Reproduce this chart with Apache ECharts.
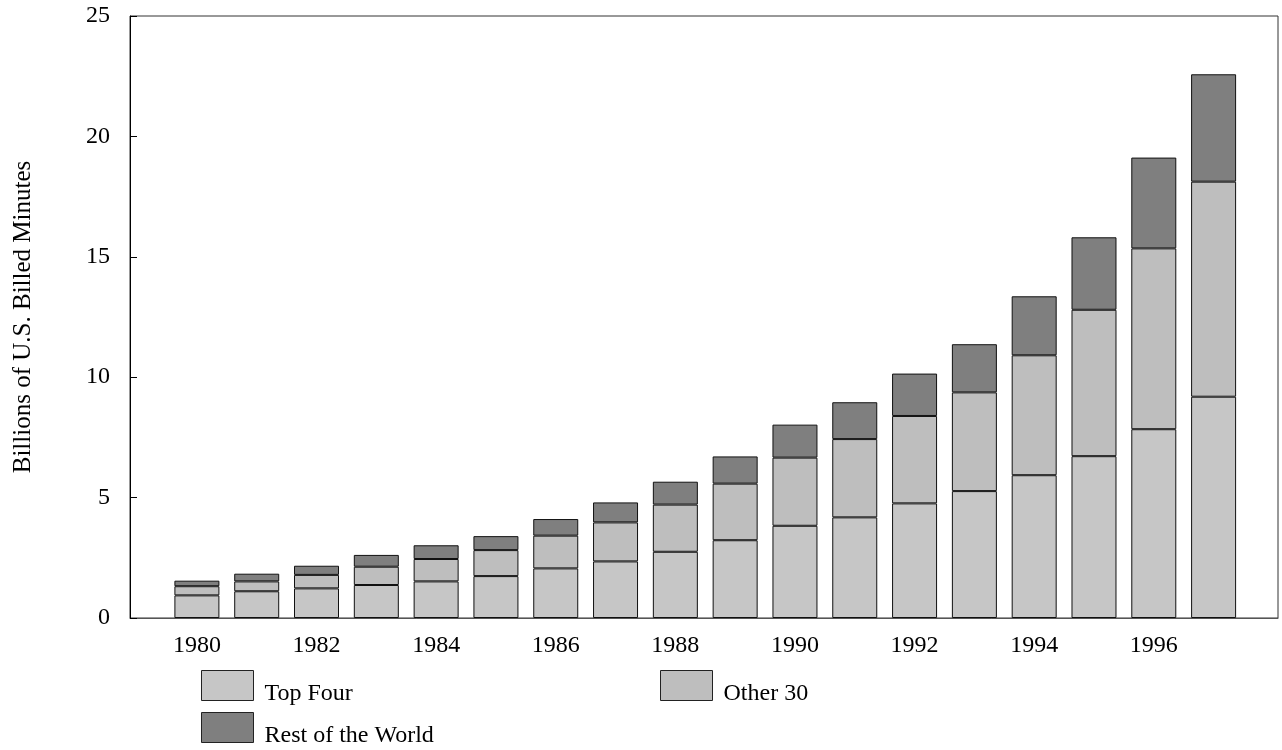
<!DOCTYPE html>
<html>
<head>
<meta charset="utf-8">
<script src="https://cdn.jsdelivr.net/npm/echarts@6/dist/echarts.min.js"></script>
<style>
html,body{margin:0;padding:0;background:#fff;}
#chart{width:1282px;height:750px;}
</style>
</head>
<body>
<div id="chart"></div>
<script>
var years = ['1980','1981','1982','1983','1984','1985','1986','1987','1988','1989','1990','1991','1992','1993','1994','1995','1996','1997'];
var topFour = [0.94,1.11,1.23,1.37,1.52,1.74,2.06,2.35,2.75,3.23,3.83,4.18,4.76,5.27,5.93,6.72,7.84,9.19];
var other30 = [0.38,0.41,0.56,0.76,0.93,1.08,1.36,1.62,1.96,2.35,2.83,3.25,3.63,4.10,4.98,6.08,7.51,8.93];
var restOfWorld = [0.23,0.32,0.38,0.49,0.57,0.58,0.69,0.83,0.95,1.13,1.37,1.53,1.76,2.00,2.45,3.01,3.77,4.46];
var xTickLabels = ['1980','1982','1984','1986','1988','1990','1992','1994','1996'];

var FONT = 'Liberation Serif';
var colors = {top:'#c6c6c6', other:'#bebebe', rest:'#7f7f7f'};

function barSeries(name, vals, color){
  return {
    name: name, type: 'bar', stack: 'total', barWidth: 45,
    xAxisIndex: 1, yAxisIndex: 1,
    data: vals,
    itemStyle: {color: color, borderColor: '#111', borderWidth: 1},
    emphasis: {disabled: true}
  };
}

function legendFor(name, left, top){
  return {
    data: [name], left: left, top: top, orient: 'horizontal',
    icon: 'rect', itemWidth: 52, itemHeight: 30, padding: 0,
    itemStyle: {borderColor: '#222', borderWidth: 1},
    formatter: function(n){ return '{a|' + n + '}'; },
    textStyle: {fontFamily: FONT, fontSize: 24, color: '#000',
      rich: {a: {fontFamily: FONT, fontSize: 24, color: '#000', padding: [16,0,0,6]}}},
    selectedMode: false
  };
}

var chart = echarts.init(document.getElementById('chart'), null, {renderer: 'canvas'});
chart.setOption({
  animation: false,
  backgroundColor: '#fff',
  grid: [
    {left: 130, top: 16, right: 4, bottom: 132, show: true, borderColor: '#333', borderWidth: 1, backgroundColor: 'transparent'},
    {left: 167, top: 16, right: 38.5, bottom: 132}
  ],
  legend: [
    legendFor('Top Four', 201, 670),
    legendFor('Other 30', 660, 670),
    legendFor('Rest of the World', 201, 712)
  ],
  xAxis: [
    {
      gridIndex: 0, type: 'value', min: 0, max: 1,
      axisLine: {show: true, lineStyle: {color: '#555', width: 1}},
      axisTick: {show: false}, splitLine: {show: false}, axisLabel: {show: false}
    },
    {
      gridIndex: 1, type: 'category', data: years, boundaryGap: true,
      axisLine: {show: false}, axisTick: {show: false}, splitLine: {show: false},
      axisLabel: {fontFamily: FONT, fontSize: 24, color: '#000', margin: 16, interval: 0,
        formatter: function(v){ return xTickLabels.indexOf(v) >= 0 ? v : ''; }}
    }
  ],
  yAxis: [
    {
      gridIndex: 0, type: 'value', min: 0, max: 25, interval: 5,
      name: 'Billions of U.S. Billed Minutes', nameLocation: 'middle', nameRotate: 90, nameGap: 94,
      nameTextStyle: {fontFamily: FONT, fontSize: 25, color: '#000'},
      axisLine: {show: true, lineStyle: {color: '#000', width: 1}},
      axisTick: {show: true, inside: true, length: 7, lineStyle: {color: '#000'}},
      splitLine: {show: false},
      axisLabel: {fontFamily: FONT, fontSize: 24, color: '#000', margin: 20}
    },
    {
      gridIndex: 1, type: 'value', min: 0, max: 25, interval: 5, show: false,
      splitLine: {show: false}
    }
  ],
  series: [
    barSeries('Top Four', topFour, colors.top),
    barSeries('Other 30', other30, colors.other),
    barSeries('Rest of the World', restOfWorld, colors.rest)
  ]
});
</script>
</body>
</html>
